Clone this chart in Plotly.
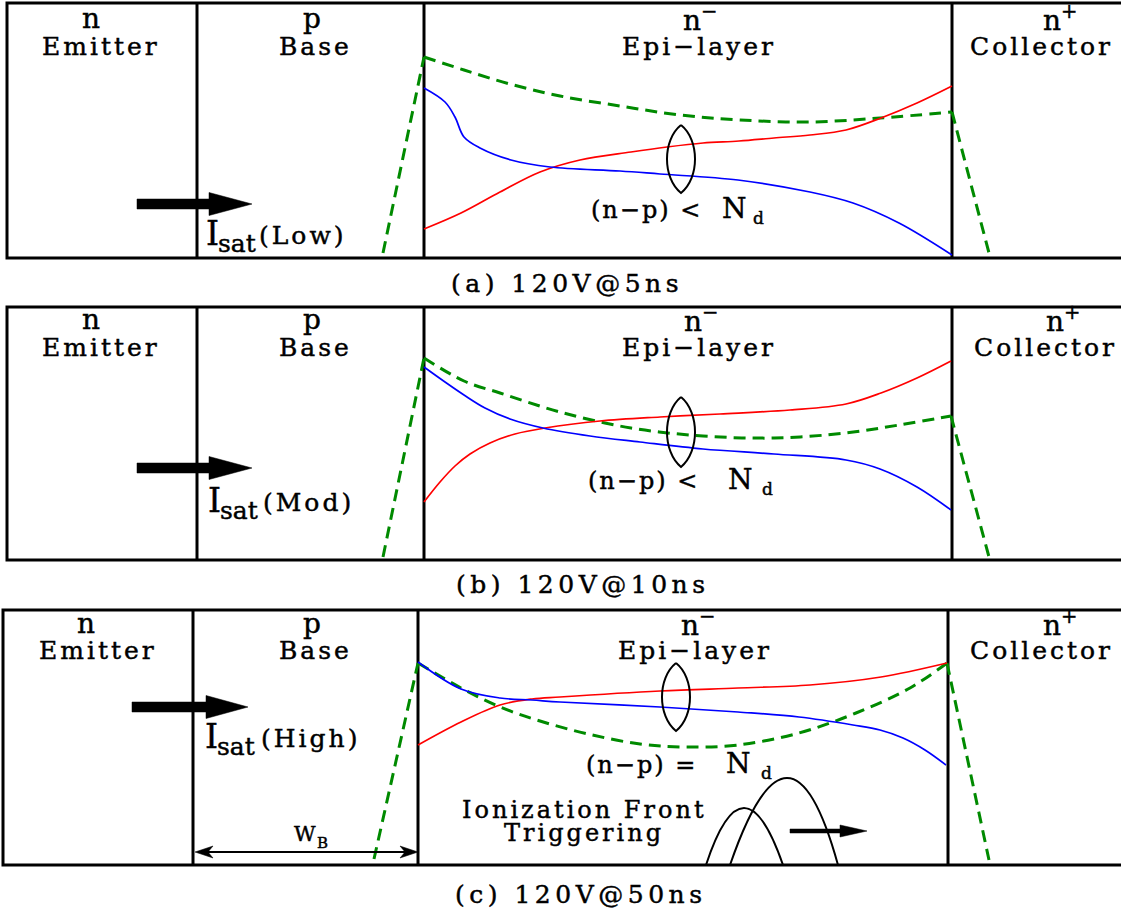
import plotly.graph_objects as go

W, H = 1121, 914
FONT = "DejaVu Serif"
RED, BLUE, GREEN = "#ff0000", "#0000ff", "#008a00"

# ---------------- frame geometry (pixel space of the diagram) ----------------
PANEL_TOP = [3, 307, 610]
PANEL_BOTTOM = [258, 560, 865]
PANEL_LEFT = [7, 7, 3]
DIV_EMITTER_BASE = [197, 197, 193]
DIV_BASE_EPI = [424, 424, 418]
DIV_EPI_COLL = [952, 952, 948]

# ---------------- carrier / field curves ----------------
# panel (a) 120V@5ns
BLUE_A_X = [424, 445, 455, 464, 480, 511, 550, 620, 660, 738, 810, 853, 899, 952]
BLUE_A_Y = [88, 102, 117, 137, 148, 160, 167, 171, 174, 180, 192, 203, 223, 255]
RED_A_X = [424, 461, 500, 540, 580, 631, 667, 703, 739, 774, 810, 846, 881, 917, 952]
RED_A_Y = [229, 213, 192, 172, 160, 152, 147, 143, 141, 138, 135, 130, 118, 103, 86]
GREEN_A_X = [424, 464, 510, 560, 620, 680, 740, 810, 880, 952]
GREEN_A_Y = [57, 70, 84, 96, 106, 115, 120, 122, 118, 112]
GREEN_A_BASE_X, GREEN_A_BASE_Y = [383, 424], [253, 57]
GREEN_A_COLL_X, GREEN_A_COLL_Y = [952, 989], [112, 253]

# panel (b) 120V@10ns
BLUE_B_X = [424, 445, 464, 485, 510, 543, 590, 640, 703, 774, 846, 880, 917, 951]
BLUE_B_Y = [367, 382, 395, 408, 419, 428, 436, 442, 449, 454, 460, 469, 487, 510]
RED_B_X = [424, 440, 455, 470, 490, 515, 545, 600, 660, 720, 790, 846, 881, 917, 951]
RED_B_Y = [502, 482, 466, 454, 443, 434, 428, 421, 417, 414, 410, 404, 393, 378, 361]
GREEN_B_X = [424, 464, 500, 560, 631, 703, 774, 846, 899, 951]
GREEN_B_Y = [358, 381, 393, 412, 428, 436, 438, 433, 425, 416]
GREEN_B_BASE_X, GREEN_B_BASE_Y = [383, 424], [557, 358]
GREEN_B_COLL_X, GREEN_B_COLL_Y = [951, 989], [416, 557]

# panel (c) 120V@50ns
BLUE_C_X = [418, 461, 500, 532, 560, 660, 738, 799, 853, 880, 903, 925, 946]
BLUE_C_Y = [662, 689, 698, 700, 702, 707, 712, 717, 725, 730, 738, 750, 765]
RED_C_X = [418, 461, 500, 532, 560, 660, 738, 810, 881, 947]
RED_C_Y = [745, 722, 705, 699, 697, 691, 688, 685, 677, 663]
GREEN_C_X = [418, 461, 500, 540, 588, 640, 685, 738, 799, 856, 910, 947]
GREEN_C_Y = [663, 688, 707, 721, 734, 744, 747, 745, 733, 713, 688, 663]
GREEN_C_BASE_X, GREEN_C_BASE_Y = [374, 418], [859, 663]
GREEN_C_COLL_X, GREEN_C_COLL_Y = [947, 989], [663, 860]

# lens markers (centre x, centre y, width, height)
LENS_CX = [681, 681, 676]
LENS_CY = [159, 432, 697]
LENS_W = [28, 28, 28]
LENS_H = [68, 70, 68]

# ionization front bumps (left foot, peak x, peak y, right foot)
BUMP_LEFT = [706, 730]
BUMP_PEAK_X = [744, 787]
BUMP_PEAK_Y = [808, 778]
BUMP_RIGHT = [783, 838]
BUMP_FOOT_Y = 865

# big current arrows
ARROW_X0 = [137, 137, 132]
ARROW_X1 = [209, 209, 206]
ARROW_TIP = [252, 252, 248]
ARROW_YC = [204, 468, 707]

# ---------------- texts ----------------
REGION_TOP = ["n", "p", "n<sup>−</sup>", "n<sup>+</sup>"]
REGION_NAME = ["Emitter", "Base", "Epi−layer", "Collector"]
REGION_TOP_X = [[91, 312, 700, 1060], [91, 312, 701, 1063], [86, 312, 698, 1060]]
REGION_TOP_BASE = [27, 328, 632]
REGION_NAME_X = [[101, 315, 699, 1041], [101, 315, 699, 1045], [98, 315, 695, 1041]]
REGION_NAME_BASE = [54, 355, 658]
CAPTIONS = ["(a) 120V@5ns", "(b) 120V@10ns", "(c) 120V@50ns"]
CAPTION_X = [567, 582, 580]
CAPTION_BASE = [291, 592, 902]
ISAT_LEVEL = ["(Low)", "(Mod)", "(High)"]
ISAT_I_X = [205, 207, 204]
ISAT_BASE = [243, 510, 746]
ISAT_LEVEL_X = [258, 262, 260]
NP_REL = ["(n−p) &lt;", "(n−p) &lt;", "(n−p) ="]
NP_X = [590, 587, 585]
NP_BASE = [217, 488, 772]
ND_X = [721, 727, 725]
ND_D_X = [752, 761, 760]

fig = go.Figure()


def line(x, y, color, width, dash=None, shape="linear"):
    fig.add_trace(go.Scatter(x=x, y=y, mode="lines", hoverinfo="skip", showlegend=False,
                             line=dict(color=color, width=width, dash=dash, shape=shape)))


def poly(x, y, color="black"):
    fig.add_trace(go.Scatter(x=x, y=y, mode="lines", fill="toself", fillcolor=color,
                             line=dict(color=color, width=0.5), hoverinfo="skip", showlegend=False))


K = 0.30


def txt(x, base, s, size, anchor="center", ls=0):
    style = "stroke:black;stroke-width:0.45px"
    if ls:
        style += f";letter-spacing:{ls}px"
    s = f'<span style="{style}">{s}</span>'
    fig.add_annotation(x=x, y=base - K * size, xref="x", yref="y", text=s, showarrow=False,
                       xanchor=anchor, yanchor="middle", borderpad=0,
                       font=dict(family=FONT, size=size, color="black"))


# frames
for i in range(3):
    fig.add_shape(type="rect", x0=PANEL_LEFT[i], x1=W + 10, y0=PANEL_TOP[i], y1=PANEL_BOTTOM[i],
                  xref="x", yref="y", line=dict(color="black", width=3), layer="below")
    for xd in (DIV_EMITTER_BASE[i], DIV_BASE_EPI[i], DIV_EPI_COLL[i]):
        fig.add_shape(type="line", x0=xd, x1=xd, y0=PANEL_TOP[i], y1=PANEL_BOTTOM[i],
                      xref="x", yref="y", line=dict(color="black", width=3), layer="below")

DASH = "12px,7px"
curves = [
    (BLUE_A_X, BLUE_A_Y, RED_A_X, RED_A_Y, GREEN_A_X, GREEN_A_Y,
     GREEN_A_BASE_X, GREEN_A_BASE_Y, GREEN_A_COLL_X, GREEN_A_COLL_Y),
    (BLUE_B_X, BLUE_B_Y, RED_B_X, RED_B_Y, GREEN_B_X, GREEN_B_Y,
     GREEN_B_BASE_X, GREEN_B_BASE_Y, GREEN_B_COLL_X, GREEN_B_COLL_Y),
    (BLUE_C_X, BLUE_C_Y, RED_C_X, RED_C_Y, GREEN_C_X, GREEN_C_Y,
     GREEN_C_BASE_X, GREEN_C_BASE_Y, GREEN_C_COLL_X, GREEN_C_COLL_Y),
]
for bx, by, rx, ry, gx, gy, gbx, gby, gcx, gcy in curves:
    line(gbx, gby, GREEN, 3, DASH)
    line(gcx, gcy, GREEN, 3, DASH)
    line(gx, gy, GREEN, 3, DASH, "spline")
    line(rx, ry, RED, 1.7, None, "spline")
    line(bx, by, BLUE, 1.7, None, "spline")

# lenses
for cx, cy, w, h in zip(LENS_CX, LENS_CY, LENS_W, LENS_H):
    k = w * 0.667
    top, bot = cy - h / 2, cy + h / 2
    path = (f"M {cx},{top} C {cx + k},{top + h * 0.22} {cx + k},{bot - h * 0.22} {cx},{bot} "
            f"C {cx - k},{bot - h * 0.22} {cx - k},{top + h * 0.22} {cx},{top}")
    fig.add_shape(type="path", path=path, xref="x", yref="y", line=dict(color="black", width=2))

# ionization bumps
for xl, px, py, xr in zip(BUMP_LEFT, BUMP_PEAK_X, BUMP_PEAK_Y, BUMP_RIGHT):
    cx = (4 * px - xl - xr) / 2
    cy = (4 * py - 2 * BUMP_FOOT_Y) / 2
    fig.add_shape(type="path", path=f"M {xl},{BUMP_FOOT_Y} Q {cx},{cy} {xr},{BUMP_FOOT_Y}",
                  xref="x", yref="y", line=dict(color="black", width=2))

# big arrows
for x0, x1, tip, yc in zip(ARROW_X0, ARROW_X1, ARROW_TIP, ARROW_YC):
    poly([x0, x1, x1, tip, x1, x1, x0, x0],
         [yc - 5, yc - 5, yc - 11.5, yc, yc + 11.5, yc + 5, yc + 5, yc - 5])

# small front arrow
poly([790, 840, 840, 867, 840, 840, 790, 790], [829, 829, 825, 831, 837, 833, 833, 829])

# W_B dimension arrow
line([200, 412], [852, 852], "black", 2)
poly([195, 213, 208, 213, 195], [852, 846, 852, 858, 852])
poly([418, 400, 405, 400, 418], [852, 846, 852, 858, 852])
txt(293, 840, "W", 21, "left")
txt(316, 847, "B", 15, "left")

# texts
for i in range(3):
    for j in range(4):
        txt(REGION_TOP_X[i][j], REGION_TOP_BASE[i], REGION_TOP[j], 28)
        txt(REGION_NAME_X[i][j], REGION_NAME_BASE[i], REGION_NAME[j], 25, ls=3)
    txt(CAPTION_X[i], CAPTION_BASE[i], CAPTIONS[i], 25, ls=4.5)
    txt(ISAT_I_X[i], ISAT_BASE[i], "I", 33, "left")
    txt(ISAT_I_X[i] + 12, ISAT_BASE[i] + 8, "sat", 25, "left")
    txt(ISAT_LEVEL_X[i], ISAT_BASE[i], ISAT_LEVEL[i], 25, "left", ls=3)
    txt(NP_X[i], NP_BASE[i], NP_REL[i], 24, "left", ls=2)
    txt(ND_X[i], NP_BASE[i], "N", 28, "left")
    txt(ND_D_X[i], NP_BASE[i] + 6, "d", 17, "left")

txt(584, 817, "Ionization Front", 24, ls=3)
txt(584, 840, "Triggering", 24, ls=3)

fig.update_layout(
    width=W, height=H, margin=dict(l=0, r=0, t=0, b=0),
    paper_bgcolor="white", plot_bgcolor="white", showlegend=False,
    xaxis=dict(range=[0, W], visible=False, fixedrange=True),
    yaxis=dict(range=[H, 0], visible=False, fixedrange=True),
)
fig.write_html("out.html")
